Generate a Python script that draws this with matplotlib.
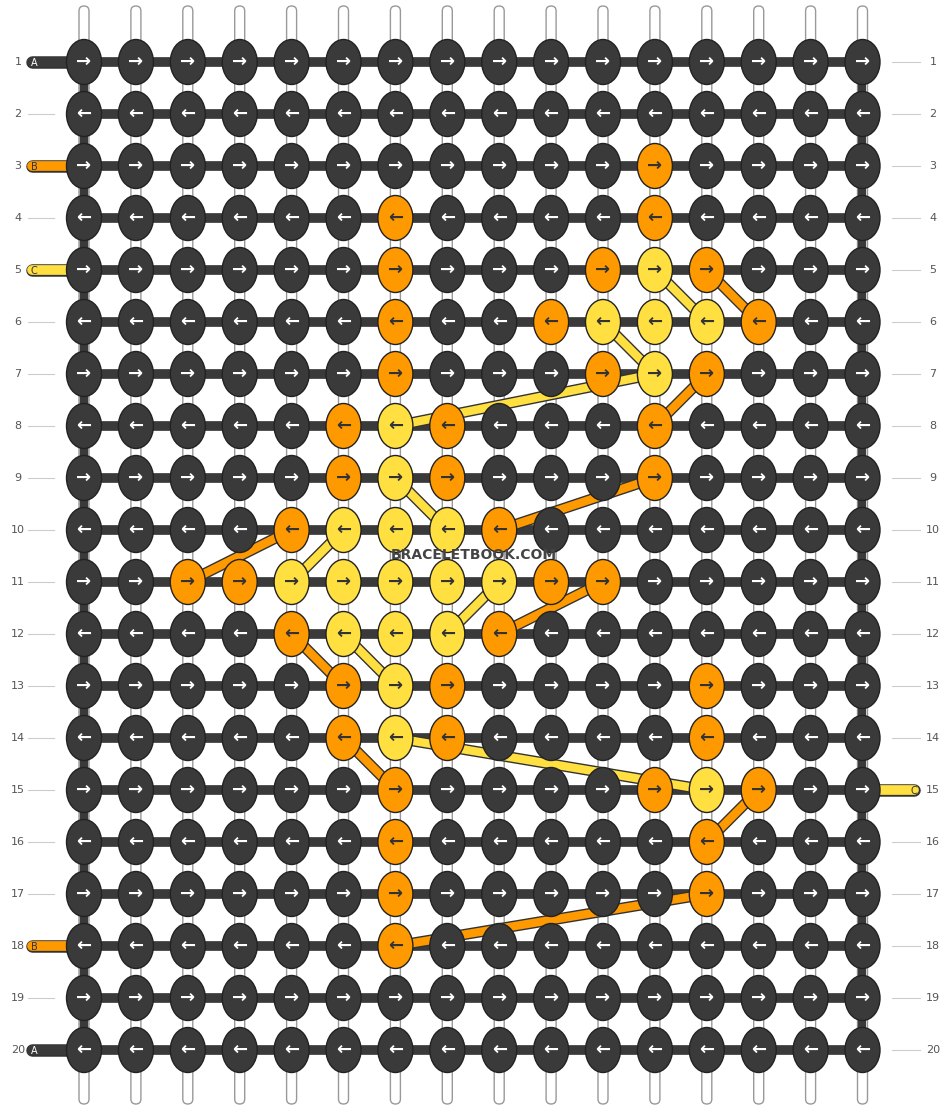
import matplotlib.pyplot as plt
from matplotlib.patches import Ellipse, FancyBboxPatch

# ---------------------------------------------------------
# Pattern data: 16 columns x 20 rows, D = dark, O = orange, Y = yellow
# ---------------------------------------------------------
n_cols = 16
n_rows = 20
rows = [
    "DDDDDDDDDDDDDDDD",
    "DDDDDDDDDDDDDDDD",
    "DDDDDDDDDDDODDDD",
    "DDDDDDODDDDODDDD",
    "DDDDDDODDDOYODDD",
    "DDDDDDODDOYYYODD",
    "DDDDDDODDDOYODDD",
    "DDDDDOYODDDODDDD",
    "DDDDDOYODDDODDDD",
    "DDDDOYYYODDDDDDD",
    "DDOOYYYYYOODDDDD",
    "DDDDOYYYODDDDDDD",
    "DDDDDOYODDDDODDD",
    "DDDDDOYODDDDODDD",
    "DDDDDDODDDDOYODD",
    "DDDDDDODDDDDODDD",
    "DDDDDDODDDDDODDD",
    "DDDDDDODDDDDDDDD",
    "DDDDDDDDDDDDDDDD",
    "DDDDDDDDDDDDDDDD",
]
# strand segments (col, row) -> (col, row), 1-based
strands = [
    ("Y", (12, 7), (7, 8)), ("O", (12, 9), (9, 10)), ("O", (3, 11), (5, 10)),
    ("O", (9, 12), (11, 11)), ("Y", (7, 14), (13, 15)), ("O", (13, 17), (7, 18)),
    ("O", (13, 5), (14, 6)), ("Y", (12, 5), (13, 6)), ("Y", (11, 6), (12, 7)),
    ("O", (13, 7), (12, 8)), ("Y", (7, 9), (8, 10)), ("Y", (6, 10), (5, 11)),
    ("Y", (8, 12), (9, 11)), ("O", (5, 12), (6, 13)), ("Y", (6, 12), (7, 13)),
    ("O", (6, 14), (7, 15)), ("O", (14, 15), (13, 16)),
]
left_labels = {1: ("A", "D"), 3: ("B", "O"), 5: ("C", "Y"), 18: ("B", "O"), 20: ("A", "D")}
right_labels = {15: ("C", "Y")}

colors = {"D": "#3a3a3a", "O": "#ff9900", "Y": "#ffe040"}
x0, dx = 84, 51.9
y0, dy = 62, 52

def pos(c, r):
    return x0 + (c - 1) * dx, y0 + (r - 1) * dy

fig = plt.figure(figsize=(9.48, 11.12), dpi=100)
ax = fig.add_axes([0, 0, 1, 1])
ax.set_xlim(0, 948)
ax.set_ylim(1112, 0)
ax.axis("off")

# vertical white threads
for c in range(1, n_cols + 1):
    x, _ = pos(c, 1)
    ax.add_patch(FancyBboxPatch((x - 5, 6), 10, 1098, boxstyle="round,pad=0,rounding_size=5",
                                fc="white", ec="#999999", lw=1, zorder=1))

# horizontal row threads and edge connections
for r in range(1, n_rows + 1):
    _, y = pos(1, r)
    ax.plot([x0, pos(n_cols, r)[0]], [y, y], color="#3a3a3a", lw=7, zorder=2)
    ax.plot([28, x0 - 30], [y, y], color="#cccccc", lw=0.8, zorder=0)
    ax.plot([pos(n_cols, r)[0] + 30, 920], [y, y], color="#cccccc", lw=0.8, zorder=0)
    ax.text(18, y, str(r), ha="center", va="center", fontsize=8, color="#555555")
    ax.text(933, y, str(r), ha="center", va="center", fontsize=8, color="#555555")
ax.plot([x0, x0], [y0, pos(1, n_rows)[1]], color="#3a3a3a", lw=6, zorder=2)
ax.plot([pos(n_cols, 1)[0]] * 2, [y0, pos(1, n_rows)[1]], color="#3a3a3a", lw=6, zorder=2)

# colored strands
for col, a, b in strands:
    xa, ya = pos(*a)
    xb, yb = pos(*b)
    ax.plot([xa, xb], [ya, yb], color="#333333", lw=8, zorder=3, solid_capstyle="butt")
    ax.plot([xa, xb], [ya, yb], color=colors[col], lw=6, zorder=3, solid_capstyle="butt")

# strand stubs with letters
for r, (lab, col) in left_labels.items():
    _, y = pos(1, r)
    ax.plot([32, x0], [y, y], color="#333333", lw=9, zorder=2, solid_capstyle="round")
    ax.plot([32, x0], [y, y], color=colors[col], lw=7, zorder=2, solid_capstyle="round")
    ax.text(34, y + 1, lab, ha="center", va="center", fontsize=7,
            color="white" if col == "D" else "#333333", zorder=4)
for r, (lab, col) in right_labels.items():
    x, y = pos(n_cols, r)
    ax.plot([x, 914], [y, y], color="#333333", lw=9, zorder=2, solid_capstyle="round")
    ax.plot([x, 914], [y, y], color=colors[col], lw=7, zorder=2, solid_capstyle="round")
    ax.text(914, y + 1, lab, ha="center", va="center", fontsize=7, color="#333333", zorder=4)

# knots
for r in range(1, n_rows + 1):
    arrow = "\u2192" if r % 2 == 1 else "\u2190"
    for c in range(1, n_cols + 1):
        x, y = pos(c, r)
        k = rows[r - 1][c - 1]
        ax.add_patch(Ellipse((x, y), 35, 45, fc=colors[k], ec="#222222", lw=1, zorder=5))
        ax.text(x, y, arrow, ha="center", va="center", fontsize=13, fontweight="bold",
                color="white" if k == "D" else "#333333", zorder=6)

ax.text(474, 555, "BRACELETBOOK.COM", ha="center", va="center", fontsize=10,
        fontweight="bold", color="#444444", zorder=7)

fig.savefig("out.png", dpi=100)
